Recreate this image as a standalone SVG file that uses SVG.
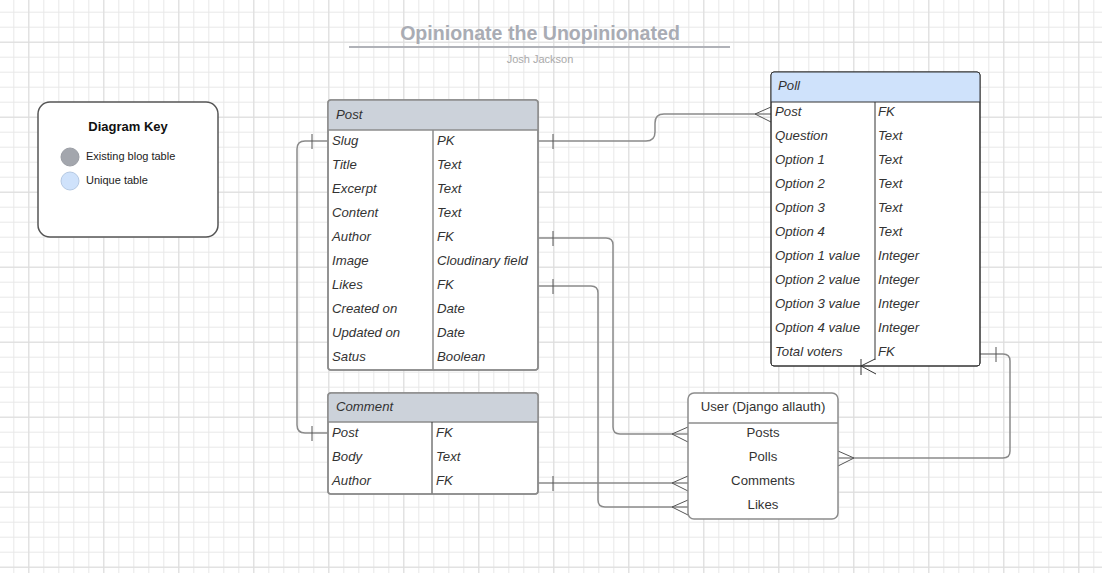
<svg xmlns="http://www.w3.org/2000/svg" width="1102" height="573" viewBox="0 0 1102 573">
<defs>
<pattern id="minor" width="15" height="15" x="13.3" y="11.7" patternUnits="userSpaceOnUse">
<path d="M0.5,0 V15 M0,0.5 H15" stroke="#e8e8e8" stroke-width="1" fill="none"/>
</pattern>
<pattern id="major" width="75" height="75" x="28.3" y="-33.3" patternUnits="userSpaceOnUse">
<path d="M0.5,0 V75 M0,0.5 H75" stroke="#dddddd" stroke-width="1" fill="none"/>
</pattern>
<style>
.t{font-family:"Liberation Sans",Arial,sans-serif;font-size:13.2px;font-style:italic;fill:#333}
.u{font-family:"Liberation Sans",Arial,sans-serif;font-size:13.2px;fill:#333;text-anchor:middle}
.tbl{fill:#fff;stroke:#8c8c8c;stroke-width:1.5}
.tbld{fill:#fff;stroke:#333;stroke-width:1}
.div{stroke:#8c8c8c;stroke-width:1.5}
.divd{stroke:#333;stroke-width:1}
.c{fill:none;stroke:#8a8a8a;stroke-width:1.5}
.m{fill:none;stroke:#555;stroke-width:1}
</style>
</defs>
<rect width="1102" height="573" fill="#fff"/>
<rect width="1102" height="573" fill="url(#minor)"/>
<rect width="1102" height="573" fill="url(#major)"/>

<g id="title">
<text x="540" y="40" text-anchor="middle" font-family="Liberation Sans, Arial, sans-serif" font-size="19.6" font-weight="bold" fill="#a9acb4">Opinionate the Unopinionated</text>
<line x1="349" y1="47" x2="730" y2="47" stroke="#b0b2b8" stroke-width="2"/>
<text x="540" y="63" text-anchor="middle" font-family="Liberation Sans, Arial, sans-serif" font-size="11" fill="#aaaaaa">Josh Jackson</text>
</g>

<g id="key">
<rect x="38" y="102" width="180" height="135" rx="12" fill="#fff" stroke="#555" stroke-width="1.5"/>
<text x="128" y="131" text-anchor="middle" font-family="Liberation Sans, Arial, sans-serif" font-size="13" font-weight="bold" fill="#111">Diagram Key</text>
<circle cx="70" cy="157" r="9" fill="#a3a6ad" stroke="#9a9da4" stroke-width="1"/>
<circle cx="70" cy="181" r="9" fill="#cfe2fb" stroke="#b5c9e3" stroke-width="1"/>
<text x="86" y="160" font-family="Liberation Sans, Arial, sans-serif" font-size="11" fill="#222">Existing blog table</text>
<text x="86" y="184" font-family="Liberation Sans, Arial, sans-serif" font-size="11" fill="#222">Unique table</text>
</g>

<g id="connectors">
<path class="c" d="M538,141 H646 Q655,141 655,132 V123 Q655,114 664,114 H771"/>
<path class="c" d="M538,238 H606 Q613,238 613,245 V427 Q613,434 620,434 H688"/>
<path class="c" d="M538,286 H591 Q598,286 598,293 V500 Q598,507 605,507 H688"/>
<path class="c" d="M538,483 H688"/>
<path class="c" d="M328,141 H305 Q297,141 297,149 V425 Q297,433 305,433 H328"/>
<path class="c" d="M980,354 H1003 Q1010,354 1010,361 V451 Q1010,458 1003,458 H838"/>
<path class="m" d="M553,134 V149 M553,231 V246 M553,279 V294 M553,476 V491 M312,134 V149 M312,426 V441 M996,347 V362"/>
<path class="m" d="M755,114 L771,107 M755,114 L771,122"/>
<path class="m" d="M672,434 L688,427 M672,434 L688,442"/>
<path class="m" d="M672,483 L688,476 M672,483 L688,491"/>
<path class="m" d="M672,507 L688,500 M672,507 L688,515"/>
<path class="m" d="M854,458 L838,451 M854,458 L838,466"/>
</g>

<g id="post">
<rect class="tbl" x="328" y="100" width="210" height="270" rx="3"/>
<path d="M328,130 V103 Q328,100 331,100 H535 Q538,100 538,103 V130 Z" fill="#ccd2da"/>
<line class="div" x1="328" y1="130" x2="538" y2="130"/>
<line class="div" x1="433" y1="130" x2="433" y2="370"/>
<rect x="328" y="100" width="210" height="270" rx="3" fill="none" stroke="#8c8c8c" stroke-width="1.5"/>
<text class="t" x="336" y="119">Post</text>
<text class="t" x="332" y="145">Slug</text><text class="t" x="437" y="145">PK</text>
<text class="t" x="332" y="169">Title</text><text class="t" x="437" y="169">Text</text>
<text class="t" x="332" y="193">Excerpt</text><text class="t" x="437" y="193">Text</text>
<text class="t" x="332" y="217">Content</text><text class="t" x="437" y="217">Text</text>
<text class="t" x="332" y="241">Author</text><text class="t" x="437" y="241">FK</text>
<text class="t" x="332" y="265">Image</text><text class="t" x="437" y="265">Cloudinary field</text>
<text class="t" x="332" y="289">Likes</text><text class="t" x="437" y="289">FK</text>
<text class="t" x="332" y="313">Created on</text><text class="t" x="437" y="313">Date</text>
<text class="t" x="332" y="337">Updated on</text><text class="t" x="437" y="337">Date</text>
<text class="t" x="332" y="361">Satus</text><text class="t" x="437" y="361">Boolean</text>
</g>

<g id="comment">
<rect class="tbl" x="328" y="393" width="210" height="101" rx="3"/>
<path d="M328,422 V396 Q328,393 331,393 H535 Q538,393 538,396 V422 Z" fill="#ccd2da"/>
<line class="div" x1="328" y1="422" x2="538" y2="422"/>
<line class="divd" x1="432" y1="422" x2="432" y2="494"/>
<rect x="328" y="393" width="210" height="101" rx="3" fill="none" stroke="#8c8c8c" stroke-width="1.5"/>
<text class="t" x="336" y="411">Comment</text>
<text class="t" x="332" y="437">Post</text><text class="t" x="436" y="437">FK</text>
<text class="t" x="332" y="461">Body</text><text class="t" x="436" y="461">Text</text>
<text class="t" x="332" y="485">Author</text><text class="t" x="436" y="485">FK</text>
</g>

<g id="poll">
<rect class="tbld" x="771" y="72" width="209" height="294" rx="3"/>
<path d="M771,102 V75 Q771,72 774,72 H977 Q980,72 980,75 V102 Z" fill="#cfe2fb"/>
<line class="divd" x1="771" y1="102" x2="980" y2="102"/>
<line class="divd" x1="875" y1="102" x2="875" y2="360"/>
<rect x="771" y="72" width="209" height="294" rx="3" fill="none" stroke="#333" stroke-width="1"/>
<text class="t" x="778" y="90">Poll</text>
<text class="t" x="775" y="116">Post</text><text class="t" x="878" y="116">FK</text>
<text class="t" x="775" y="140">Question</text><text class="t" x="878" y="140">Text</text>
<text class="t" x="775" y="164">Option 1</text><text class="t" x="878" y="164">Text</text>
<text class="t" x="775" y="188">Option 2</text><text class="t" x="878" y="188">Text</text>
<text class="t" x="775" y="212">Option 3</text><text class="t" x="878" y="212">Text</text>
<text class="t" x="775" y="236">Option 4</text><text class="t" x="878" y="236">Text</text>
<text class="t" x="775" y="260">Option 1 value</text><text class="t" x="878" y="260">Integer</text>
<text class="t" x="775" y="284">Option 2 value</text><text class="t" x="878" y="284">Integer</text>
<text class="t" x="775" y="308">Option 3 value</text><text class="t" x="878" y="308">Integer</text>
<text class="t" x="775" y="332">Option 4 value</text><text class="t" x="878" y="332">Integer</text>
<text class="t" x="775" y="356">Total voters</text><text class="t" x="878" y="356">FK</text>
</g>

<g id="poll-foot">
<path class="divd" fill="none" d="M875,359 L861,366 L876,374 M861,359 V375"/>
</g>

<g id="user">
<rect class="tbl" x="688" y="393" width="150" height="126" rx="6"/>
<line class="div" x1="688" y1="423" x2="838" y2="423"/>
<text class="u" x="763" y="411">User (Django allauth)</text>
<text class="u" x="763" y="437">Posts</text>
<text class="u" x="763" y="461">Polls</text>
<text class="u" x="763" y="485">Comments</text>
<text class="u" x="763" y="509">Likes</text>
</g>
</svg>
